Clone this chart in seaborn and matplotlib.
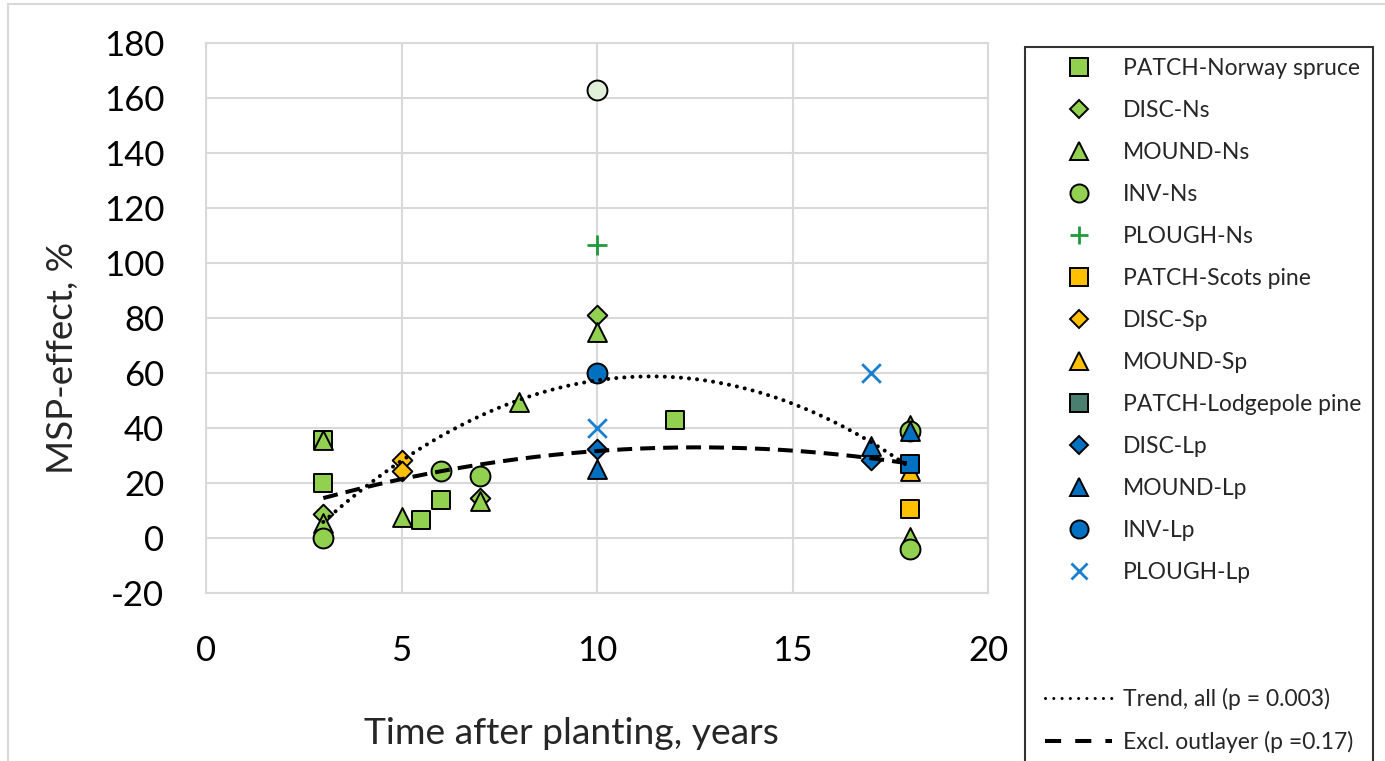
import numpy as np
import matplotlib
matplotlib.use("Agg")
import matplotlib.pyplot as plt
import seaborn as sns
from matplotlib.lines import Line2D
from matplotlib.patches import Rectangle
from matplotlib.legend_handler import HandlerLine2D

# ---------------- data ----------------
patch_ns_x = [3, 3, 5.5, 6, 12]
patch_ns_y = [35.5, 20, 6.5, 14, 43]
disc_ns_x = [3, 7, 10]
disc_ns_y = [8.8, 14.5, 81]
mound_ns_x = [3, 3, 5, 7, 8, 10, 18, 18]
mound_ns_y = [35.5, 5.5, 7.5, 13.5, 49.5, 75, 41, 0.5]
inv_ns_x = [3, 6, 7, 18, 18]
inv_ns_y = [0, 24.5, 22.7, 39, -4]
plough_ns_x = [10]
plough_ns_y = [106.5]
patch_sp_x = [18]
patch_sp_y = [10.5]
disc_sp_x = [5, 5]
disc_sp_y = [28.5, 24.5]
mound_sp_x = [18]
mound_sp_y = [24.5]
patch_lp_x = [18]
patch_lp_y = [27]
disc_lp_x = [10, 17]
disc_lp_y = [32.5, 28.5]
mound_lp_x = [10, 17, 18]
mound_lp_y = [25, 33.5, 39]
inv_lp_x = [10]
inv_lp_y = [60]
plough_lp_x = [10, 17]
plough_lp_y = [40, 60]
outlier_x = [10]
outlier_y = [162.8]

excl_trend_x = [3, 5, 7, 10, 15.7, 18]
excl_trend_y = [14.5, 21.8, 26, 32, 31, 27]

series_labels = ["PATCH-Norway spruce", "DISC-Ns", "MOUND-Ns", "INV-Ns", "PLOUGH-Ns",
                 "PATCH-Scots pine", "DISC-Sp", "MOUND-Sp", "PATCH-Lodgepole pine",
                 "DISC-Lp", "MOUND-Lp", "INV-Lp", "PLOUGH-Lp"]
trend_labels = ["Trend, all (p = 0.003)", "Excl. outlayer (p =0.17)"]
xticks = [0, 5, 10, 15, 20]
yticks = [-20, 0, 20, 40, 60, 80, 100, 120, 140, 160, 180]

# ---------------- styling ----------------
GREEN = "#92D050"
ORANGE = "#FFC000"
BLUE = "#0070C0"
series = [
    (patch_ns_x, patch_ns_y, "s", GREEN, GREEN),
    (disc_ns_x, disc_ns_y, "D", GREEN, GREEN),
    (mound_ns_x, mound_ns_y, "^", GREEN, GREEN),
    (inv_ns_x, inv_ns_y, "o", GREEN, GREEN),
    (plough_ns_x, plough_ns_y, "+", "#1E9A3A", "#1E9A3A"),
    (patch_sp_x, patch_sp_y, "s", ORANGE, ORANGE),
    (disc_sp_x, disc_sp_y, "D", ORANGE, ORANGE),
    (mound_sp_x, mound_sp_y, "^", ORANGE, ORANGE),
    (patch_lp_x, patch_lp_y, "s", BLUE, "#4A7F6F"),
    (disc_lp_x, disc_lp_y, "D", BLUE, BLUE),
    (mound_lp_x, mound_lp_y, "^", BLUE, BLUE),
    (inv_lp_x, inv_lp_y, "o", BLUE, BLUE),
    (plough_lp_x, plough_lp_y, "x", "#1A7FD0", "#1A7FD0"),
]
sizes = {"s": 150, "D": 100, "^": 185, "o": 205, "+": 190, "x": 180}
leg_ms = {"s": 12.5, "D": 9.0, "^": 13, "o": 13, "+": 13, "x": 12}

DOT = (0, (0.01, 2.0))
DASH = (0, (3.7, 2.0))

sns.set_style("white")
plt.rcParams["font.family"] = ["Lato", "DejaVu Sans"]

W, H = 1385, 761
fig = plt.figure(figsize=(W / 100, H / 100), dpi=100)
ax = fig.add_axes([206 / W, 1 - 593 / H, (988 - 206) / W, (593 - 43) / H])

for xs, ys, mk, col, _ in series:
    if mk in ("+", "x"):
        sns.scatterplot(x=xs, y=ys, marker=mk, s=sizes[mk], color=col,
                        linewidth=2.0, ax=ax, legend=False, zorder=3)
    else:
        sns.scatterplot(x=xs, y=ys, marker=mk, s=sizes[mk], color=col,
                        edgecolor="black", linewidth=1.4, ax=ax,
                        legend=False, zorder=3)

# outlier shown with pale fill, not in legend
sns.scatterplot(x=outlier_x, y=outlier_y, marker="o", s=sizes["o"],
                color="#E2F0D9", edgecolor="black", linewidth=1.4, ax=ax,
                legend=False, zorder=3)

# ---------------- trend lines (2nd-order polynomials) ----------------
all_x = np.concatenate([np.asarray(s[0], float) for s in series] + [np.asarray(outlier_x, float)])
all_y = np.concatenate([np.asarray(s[1], float) for s in series] + [np.asarray(outlier_y, float)])
c_all = np.polyfit(all_x, all_y, 2)
c_exc = np.polyfit(excl_trend_x, excl_trend_y, 2)
xx = np.linspace(3, 18, 300)
sns.lineplot(x=xx, y=np.polyval(c_all, xx), color="black", linestyle=DOT,
             linewidth=2.9, dash_capstyle="round", ax=ax, zorder=4, legend=False)
sns.lineplot(x=xx, y=np.polyval(c_exc, xx), color="black", linestyle=DASH,
             linewidth=2.9, ax=ax, zorder=4, legend=False)

# ---------------- axes ----------------
ax.set_xlim(0, 20)
ax.set_ylim(-20, 180)
ax.set_xticks(xticks)
ax.set_yticks(yticks)
ax.set_xticklabels([str(v) for v in xticks])
ax.set_yticklabels([str(v) for v in yticks])
ax.tick_params(axis="both", length=0, labelsize=25, colors="black")
ax.tick_params(axis="x", pad=30)
ax.tick_params(axis="y", pad=30)
ax.grid(True, color="#D9D9D9", linewidth=1.5)
ax.set_axisbelow(True)
for sp in ax.spines.values():
    sp.set_color("#D9D9D9")
    sp.set_linewidth(1.5)
ax.set_xlabel("Time after planting, years", fontsize=26.8)
ax.set_ylabel("MSP-effect, %", fontsize=26.5)
ax.xaxis.set_label_coords((571 - 206) / 782, (593 - 733) / 550)
ax.xaxis.label.set_va("center")
ax.yaxis.set_label_coords((62 - 206) / 782, (593 - 358) / 550)
ax.yaxis.label.set_va("center")
ax.yaxis.label.set_ha("center")

# ---------------- legend ----------------
handles = []
for xs, ys, mk, col, lcol in series:
    if mk in ("+", "x"):
        handles.append(Line2D([], [], linestyle="none", marker=mk, color=lcol,
                              markersize=leg_ms[mk], markeredgewidth=2.0))
    else:
        handles.append(Line2D([], [], linestyle="none", marker=mk,
                              markerfacecolor=lcol, markeredgecolor="black",
                              markeredgewidth=1.4, markersize=leg_ms[mk]))
blank = Line2D([], [], linestyle="none")
handles += [blank, blank]
handles.append(Line2D([], [], color="black", linestyle=(0, (0.01, 2.7)),
                      linewidth=2.2, dash_capstyle="round"))
handles.append(Line2D([], [], color="black", linestyle=(0, (4, 3.5)), linewidth=2.9))
labels = series_labels + ["", ""] + trend_labels

leg = fig.legend(handles, labels, loc="upper left",
                 bbox_to_anchor=(1025 / W, 1 - 47 / H), bbox_transform=fig.transFigure,
                 borderaxespad=0, frameon=True, fancybox=False, fontsize=16.5,
                 handlelength=3.3, handletextpad=0.48, labelspacing=0.915,
                 borderpad=0.5, handler_map={Line2D: HandlerLine2D(xpad=0.37)})
leg.get_frame().set_edgecolor("black")
leg.get_frame().set_linewidth(1.5)

# outer chart-area border
fig.patches.append(Rectangle((8 / W, -0.1), 1.2, 1 - 4 / H + 0.1,
                             transform=fig.transFigure, fill=False,
                             edgecolor="#D9D9D9", linewidth=1.5, zorder=0))

fig.savefig("out.png", dpi=100)
